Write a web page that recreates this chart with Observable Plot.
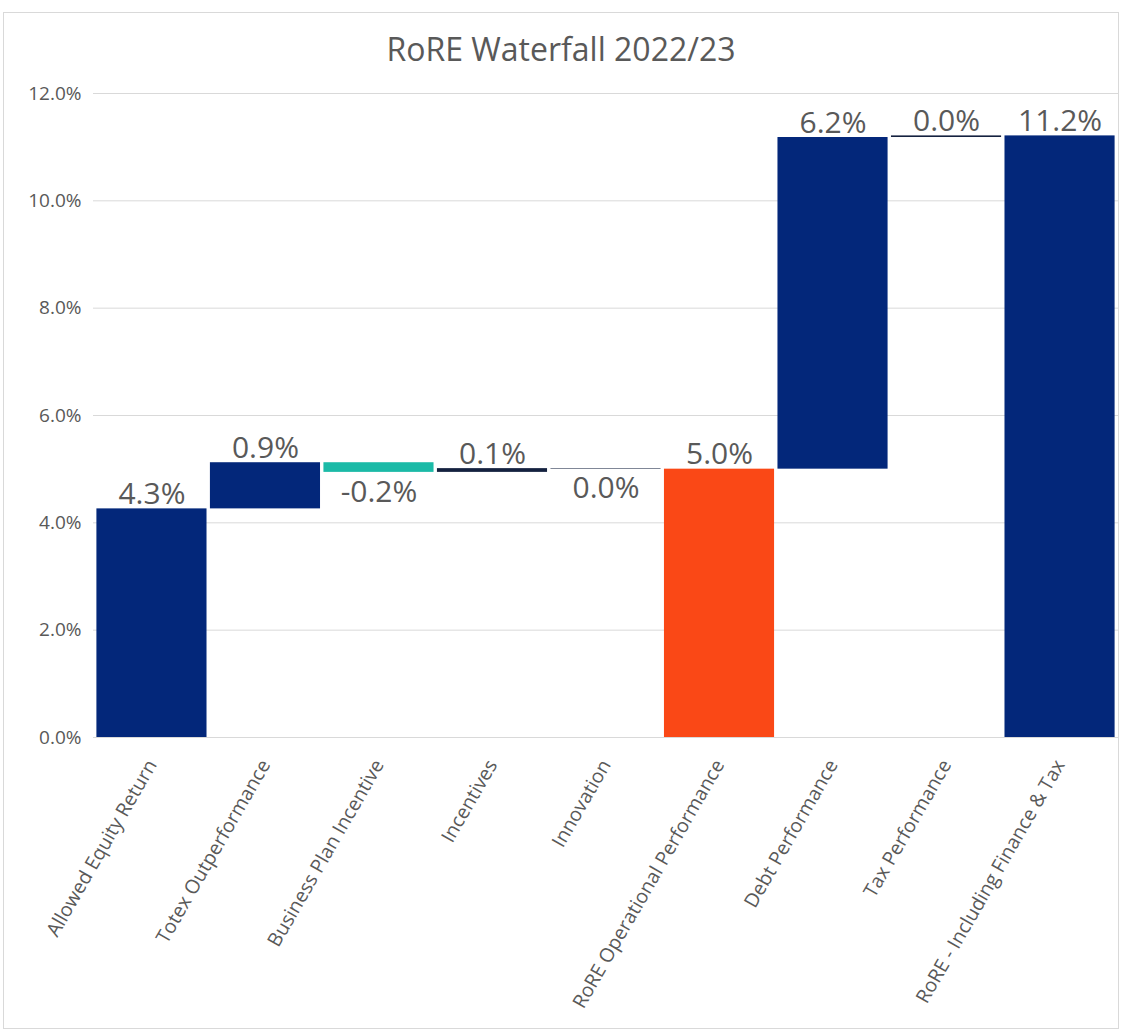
<!DOCTYPE html>
<html>
<head>
<meta charset="utf-8">
<script src="https://cdn.jsdelivr.net/npm/d3@7"></script>
<script src="https://cdn.jsdelivr.net/npm/@observablehq/plot@0.6"></script>
<style>
  html, body { margin: 0; padding: 0; background: white; }
  #frame {
    position: absolute; left: 3px; top: 12px;
    width: 1114px; height: 1015px;
    border: 1px solid #d9d9d9; background: white;
  }
  #title {
    height: 67px; box-sizing: border-box; padding-top: 20px;
    font-family: "Open Sans", sans-serif; font-size: 32px; line-height: 32px;
    color: #595959; text-align: center;
  }
  svg { display: block; }
</style>
</head>
<body>
<div id="frame">
  <div id="title">RoRE Waterfall 2022/23</div>
  <div id="chart"></div>
</div>
<script>
// Categories along the x axis
const categories = [
  "Allowed Equity Return",
  "Totex Outperformance",
  "Business Plan Incentive",
  "Incentives",
  "Innovation",
  "RoRE Operational Performance",
  "Debt Performance",
  "Tax Performance",
  "RoRE - Including Finance & Tax"
];
// Step values in percent (totals are the running sum they close)
const values = [4.26, 0.86, -0.18, 0.07, -0.01, 5.00, 6.18, 0.03, 11.21];
// Bar role: start, step, subtotal or total
const kinds = ["start", "step", "step", "step", "step", "subtotal", "step", "step", "total"];
// Y axis ticks
const yTicks = [0, 2, 4, 6, 8, 10, 12];

const fmt = v => {
  const s = v.toFixed(1);
  return (s === "-0.0" ? "0.0" : s) + "%";
};

// Build waterfall table
let running = 0;
const data = categories.map((name, i) => {
  const v = values[i], k = kinds[i];
  let y1, y2;
  if (k === "start" || k === "subtotal" || k === "total") {
    y1 = 0; y2 = v; running = v;
  } else {
    y1 = running; y2 = running + v; running = y2;
  }
  let role = k;
  if (k === "step") role = Math.abs(v) < 0.1 ? "flat" : (v < 0 ? "down" : "up");
  return {name, value: v, y1, y2, role, label: fmt(v)};
});

const chart = Plot.plot({
  width: 1114,
  height: 948,
  marginLeft: 89,
  marginRight: 0,
  marginTop: 13,
  marginBottom: 291,
  style: {fontFamily: "Open Sans, sans-serif", fontSize: "19px", color: "#595959", background: "white"},
  x: {domain: categories, padding: 0.03, round: false, label: null},
  y: {domain: [0, 12], label: null},
  color: {
    domain: ["start", "up", "down", "flat", "subtotal", "total"],
    range: ["#03277a", "#03277a", "#1bbaa7", "#14213f", "#fa4816", "#03277a"]
  },
  marks: [
    Plot.ruleY(yTicks, {stroke: "#d9d9d9", strokeWidth: 1}),
    Plot.axisY(yTicks, {tickSize: 0, tickPadding: 12, tickFormat: d => d.toFixed(1) + "%", fontSize: 19, fill: "#595959", label: null}),
    Plot.axisX({tickSize: 0, tickPadding: 24, tickRotate: -60, textAnchor: "end", fontSize: 19.5, fill: "#595959", label: null}),
    Plot.barY(data, {x: "name", y1: "y1", y2: "y2", fill: d => d.role}),
    Plot.ruleY(data.filter(d => d.role === "flat"), {x: "name", y: "y2", stroke: "#14213f", strokeWidth: 1.5}),
    Plot.text(data.filter(d => d.value >= 0), {
      x: "name", y: d => Math.max(d.y1, d.y2), text: "label",
      lineAnchor: "bottom", dy: -5, fontSize: 30, fill: "#595959"
    }),
    Plot.text(data.filter(d => d.value < 0), {
      x: "name", y: d => Math.min(d.y1, d.y2), text: "label",
      lineAnchor: "top", dy: 8, fontSize: 30, fill: "#595959"
    })
  ]
});
document.getElementById("chart").appendChild(chart);
</script>
</body>
</html>
